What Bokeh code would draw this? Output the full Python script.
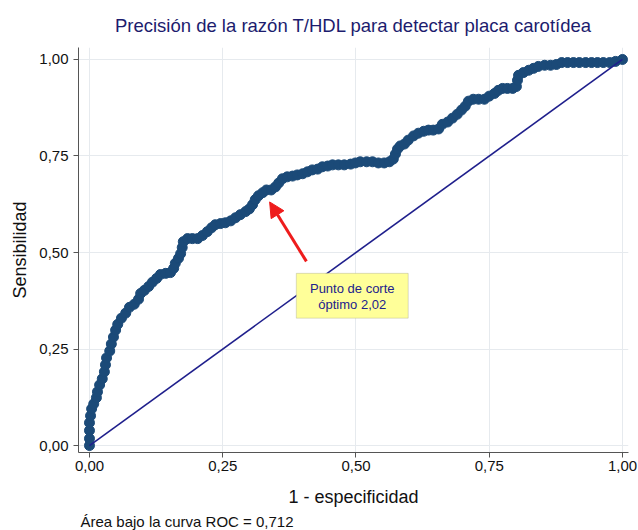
from bokeh.plotting import figure
from bokeh.models import (Range1d, FixedTicker, Label, BoxAnnotation, Arrow,
                          NormalHead, CustomJSTickFormatter, Title)
from bokeh.embed import file_html
from bokeh.resources import INLINE

# ---------------- data ----------------
fpr = [0.000, 0.000, 0.000, 0.000, 0.002, 0.004, 0.008, 0.013, 0.015, 0.019,
       0.024, 0.028, 0.030, 0.032, 0.038, 0.041, 0.045, 0.049, 0.053, 0.060,
       0.068, 0.075, 0.084, 0.092, 0.096, 0.103, 0.111, 0.118, 0.126, 0.133,
       0.143, 0.152, 0.158, 0.161, 0.167, 0.171, 0.174, 0.176, 0.184, 0.193,
       0.203, 0.212, 0.221, 0.229, 0.236, 0.246, 0.255, 0.265, 0.274, 0.283,
       0.293, 0.300, 0.306, 0.311, 0.317, 0.325, 0.332, 0.341, 0.349, 0.355,
       0.362, 0.371, 0.381, 0.390, 0.400, 0.409, 0.418, 0.428, 0.437, 0.447,
       0.456, 0.467, 0.478, 0.490, 0.499, 0.508, 0.520, 0.531, 0.542, 0.553,
       0.563, 0.570, 0.574, 0.578, 0.583, 0.591, 0.598, 0.608, 0.617, 0.627,
       0.636, 0.645, 0.655, 0.662, 0.672, 0.681, 0.690, 0.698, 0.705, 0.711,
       0.720, 0.730, 0.741, 0.750, 0.760, 0.767, 0.775, 0.784, 0.794, 0.801,
       0.803, 0.805, 0.814, 0.824, 0.833, 0.842, 0.854, 0.865, 0.876, 0.886,
       0.897, 0.908, 0.919, 0.931, 0.942, 0.953, 0.964, 0.976, 0.987, 1.000]
tpr = [0.000, 0.018, 0.039, 0.059, 0.077, 0.095, 0.108, 0.124, 0.139, 0.157,
       0.173, 0.191, 0.209, 0.227, 0.245, 0.263, 0.281, 0.299, 0.314, 0.330,
       0.343, 0.358, 0.366, 0.379, 0.394, 0.402, 0.412, 0.423, 0.433, 0.443,
       0.446, 0.448, 0.459, 0.472, 0.485, 0.497, 0.513, 0.528, 0.536, 0.536,
       0.536, 0.544, 0.554, 0.564, 0.572, 0.575, 0.577, 0.582, 0.590, 0.598,
       0.606, 0.613, 0.624, 0.637, 0.647, 0.655, 0.662, 0.662, 0.670, 0.680,
       0.691, 0.696, 0.698, 0.701, 0.704, 0.709, 0.714, 0.716, 0.722, 0.724,
       0.727, 0.727, 0.727, 0.729, 0.732, 0.735, 0.735, 0.735, 0.732, 0.732,
       0.735, 0.742, 0.755, 0.768, 0.776, 0.781, 0.791, 0.802, 0.809, 0.814,
       0.817, 0.817, 0.820, 0.832, 0.838, 0.848, 0.858, 0.869, 0.879, 0.892,
       0.897, 0.897, 0.897, 0.905, 0.912, 0.920, 0.925, 0.925, 0.925, 0.930,
       0.946, 0.959, 0.966, 0.972, 0.977, 0.982, 0.985, 0.985, 0.987, 0.992,
       0.992, 0.992, 0.992, 0.992, 0.992, 0.992, 0.992, 0.992, 0.995, 1.000]
diag_x = [0.0, 1.0]
diag_y = [0.0, 1.0]
tick_values = [0.0, 0.25, 0.5, 0.75, 1.0]
tick_labels = ["0,00", "0,25", "0,50", "0,75", "1,00"]

title_text = "Precisión de la razón T/HDL para detectar placa carotídea"
xlabel_text = "1 - especificidad"
ylabel_text = "Sensibilidad"
footer_text = "Área bajo la curva ROC = 0,712"
note_lines = ["Punto de corte", "óptimo 2,02"]

# annotation geometry (data units)
arrow_tail = (0.407, 0.477)
arrow_tip = (0.338, 0.631)
note_box = dict(left=0.388, right=0.598, bottom=0.330, top=0.446)
note_center_x = 0.493
note_line_y = [0.407, 0.366]

FONT = "Liberation Sans"
NAVY = "#1c1c6e"
CURVE = "#1b4a78"

p = figure(width=638, height=530, output_backend="svg", toolbar_location=None,
           x_range=Range1d(-0.0206, 1.0113), y_range=Range1d(-0.018, 1.031),
           min_border_left=78, min_border_right=10, min_border_top=45,
           min_border_bottom=78)
p.outline_line_color = None
p.background_fill_color = "white"
p.border_fill_color = "white"

# title
p.title.text = title_text
p.title.align = "center"
p.title.text_font = FONT
p.title.text_font_size = "18.5px"
p.title.text_font_style = "normal"
p.title.text_color = NAVY
p.title.standoff = 24

fmt = CustomJSTickFormatter(args=dict(vals=tick_values, labs=tick_labels), code="""
const i = vals.findIndex(v => Math.abs(v - tick) < 1e-9);
return i >= 0 ? labs[i] : '';
""")
for ax in (p.xaxis[0], p.yaxis[0]):
    ax.ticker = FixedTicker(ticks=tick_values)
    ax.formatter = fmt
    ax.minor_tick_line_color = None
    ax.major_tick_in = 0
    ax.major_tick_out = 5
    ax.major_tick_line_color = "#555555"
    ax.axis_line_color = "#555555"
    ax.axis_line_width = 1
    ax.major_label_text_font = FONT
    ax.major_label_text_font_size = "15px"
    ax.major_label_text_color = "#111111"
    ax.axis_label_text_font = FONT
    ax.axis_label_text_font_size = "18px"
    ax.axis_label_text_font_style = "normal"
    ax.axis_label_text_color = "#111111"
p.xaxis.major_label_standoff = 3
p.yaxis.major_label_standoff = 5
p.yaxis.major_label_orientation = "horizontal"
p.xaxis.axis_label = xlabel_text
p.yaxis.axis_label = ylabel_text
p.xaxis.axis_label_standoff = 13
p.yaxis.axis_label_standoff = 6

for g in (p.xgrid[0], p.ygrid[0]):
    g.ticker = FixedTicker(ticks=tick_values)
    g.grid_line_color = "#e6eaee"
    g.grid_line_width = 1

# ROC curve
p.scatter(fpr, tpr, marker="circle", size=10, fill_color=CURVE,
          line_color=CURVE, line_width=1)
# reference diagonal
p.line(diag_x, diag_y, line_color="#1f1f8c", line_width=1.6)

# note box and arrow
p.add_layout(BoxAnnotation(fill_color="#ffff99", fill_alpha=1.0,
                           line_color="#8c8c8c", line_width=1, **note_box))
for txt, yy in zip(note_lines, note_line_y):
    p.add_layout(Label(x=note_center_x, y=yy, text=txt, text_font=FONT,
                       text_font_size="13px", text_color="#22228c",
                       text_align="center", text_baseline="middle"))
p.add_layout(Arrow(end=NormalHead(size=15, fill_color="#ee1c1c",
                                  line_color="#ee1c1c"),
                   x_start=arrow_tail[0], y_start=arrow_tail[1],
                   x_end=arrow_tip[0], y_end=arrow_tip[1],
                   line_color="#ee1c1c", line_width=3))

# footer below the x axis
p.add_layout(Title(text=footer_text, align="left", offset=2, standoff=2,
                   text_font=FONT, text_font_size="15px",
                   text_font_style="normal", text_color="#111111"), "below")

open("out.html", "w").write(file_html(p, INLINE))
